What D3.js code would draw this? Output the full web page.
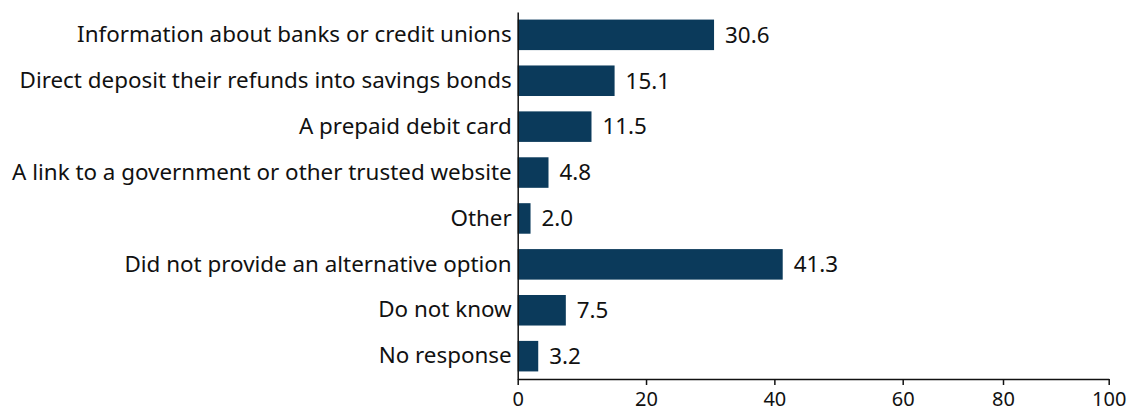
<!DOCTYPE html>
<html>
<head>
<meta charset="utf-8">
<script src="https://cdn.jsdelivr.net/npm/d3@7"></script>
<style>
  html, body { margin: 0; padding: 0; background: #fff; }
  svg { display: block; }
</style>
</head>
<body>
<svg id="chart" width="1132" height="412"></svg>
<script>
// Survey responses: alternative options offered (percent)
const categories = [
  "Information about banks or credit unions",
  "Direct deposit their refunds into savings bonds",
  "A prepaid debit card",
  "A link to a government or other trusted website",
  "Other",
  "Did not provide an alternative option",
  "Do not know",
  "No response"
];
const values = [30.6, 15.1, 11.5, 4.8, 2.0, 41.3, 7.5, 3.2];
const tickValues = [0, 20, 40, 60, 80, 100];

const FONT = "'Noto Sans', 'Open Sans', sans-serif";
const LABEL_SIZE = 22.4;
const TICK_SIZE = 20;
const svg = d3.select("#chart");
const barColor = "#0b3a5b";
const textColor = "#111";

// Horizontal value axis (axis stops sit at fixed positions along the baseline)
const x = d3.scaleLinear()
  .domain([0, 60, 80, 100])
  .range([517.7, 902.7, 1003, 1108.7]);

const y = d3.scaleBand()
  .domain(categories)
  .range([12, 379])
  .paddingInner(0.335)
  .paddingOuter(0.165);

// Bars
svg.append("g")
  .selectAll("rect")
  .data(values)
  .join("rect")
  .attr("x", x(0))
  .attr("y", (d, i) => y(categories[i]))
  .attr("width", d => x(d) - x(0))
  .attr("height", y.bandwidth())
  .attr("fill", barColor);

// Value labels
svg.append("g")
  .attr("font-family", FONT)
  .attr("font-size", LABEL_SIZE)
  .selectAll("text")
  .data(values)
  .join("text")
  .attr("x", d => x(d) + 11)
  .attr("y", (d, i) => y(categories[i]) + y.bandwidth() / 2)
  .attr("dy", "0.35em")
  .attr("fill", textColor)
  .text(d => d.toFixed(1));

// Category axis
const yAxis = svg.append("g")
  .attr("transform", `translate(${x(0)},0)`)
  .call(d3.axisLeft(y).tickSize(0).tickPadding(6))
  .attr("font-family", FONT)
  .attr("font-size", LABEL_SIZE);
yAxis.select(".domain").attr("stroke", "#111").attr("stroke-width", 1.5);
yAxis.selectAll("text").attr("fill", textColor);

// Value axis
const xAxis = svg.append("g")
  .attr("transform", "translate(0,379)")
  .call(d3.axisBottom(x).tickValues(tickValues).tickSize(6).tickSizeOuter(0).tickPadding(6.5).tickFormat(d3.format("d")))
  .attr("font-family", FONT)
  .attr("font-size", TICK_SIZE);
xAxis.select(".domain").attr("stroke", "#111").attr("stroke-width", 1.5);
xAxis.selectAll(".tick line").attr("stroke", "#111").attr("stroke-width", 1.5);
xAxis.selectAll("text").attr("fill", textColor);
</script>
</body>
</html>
